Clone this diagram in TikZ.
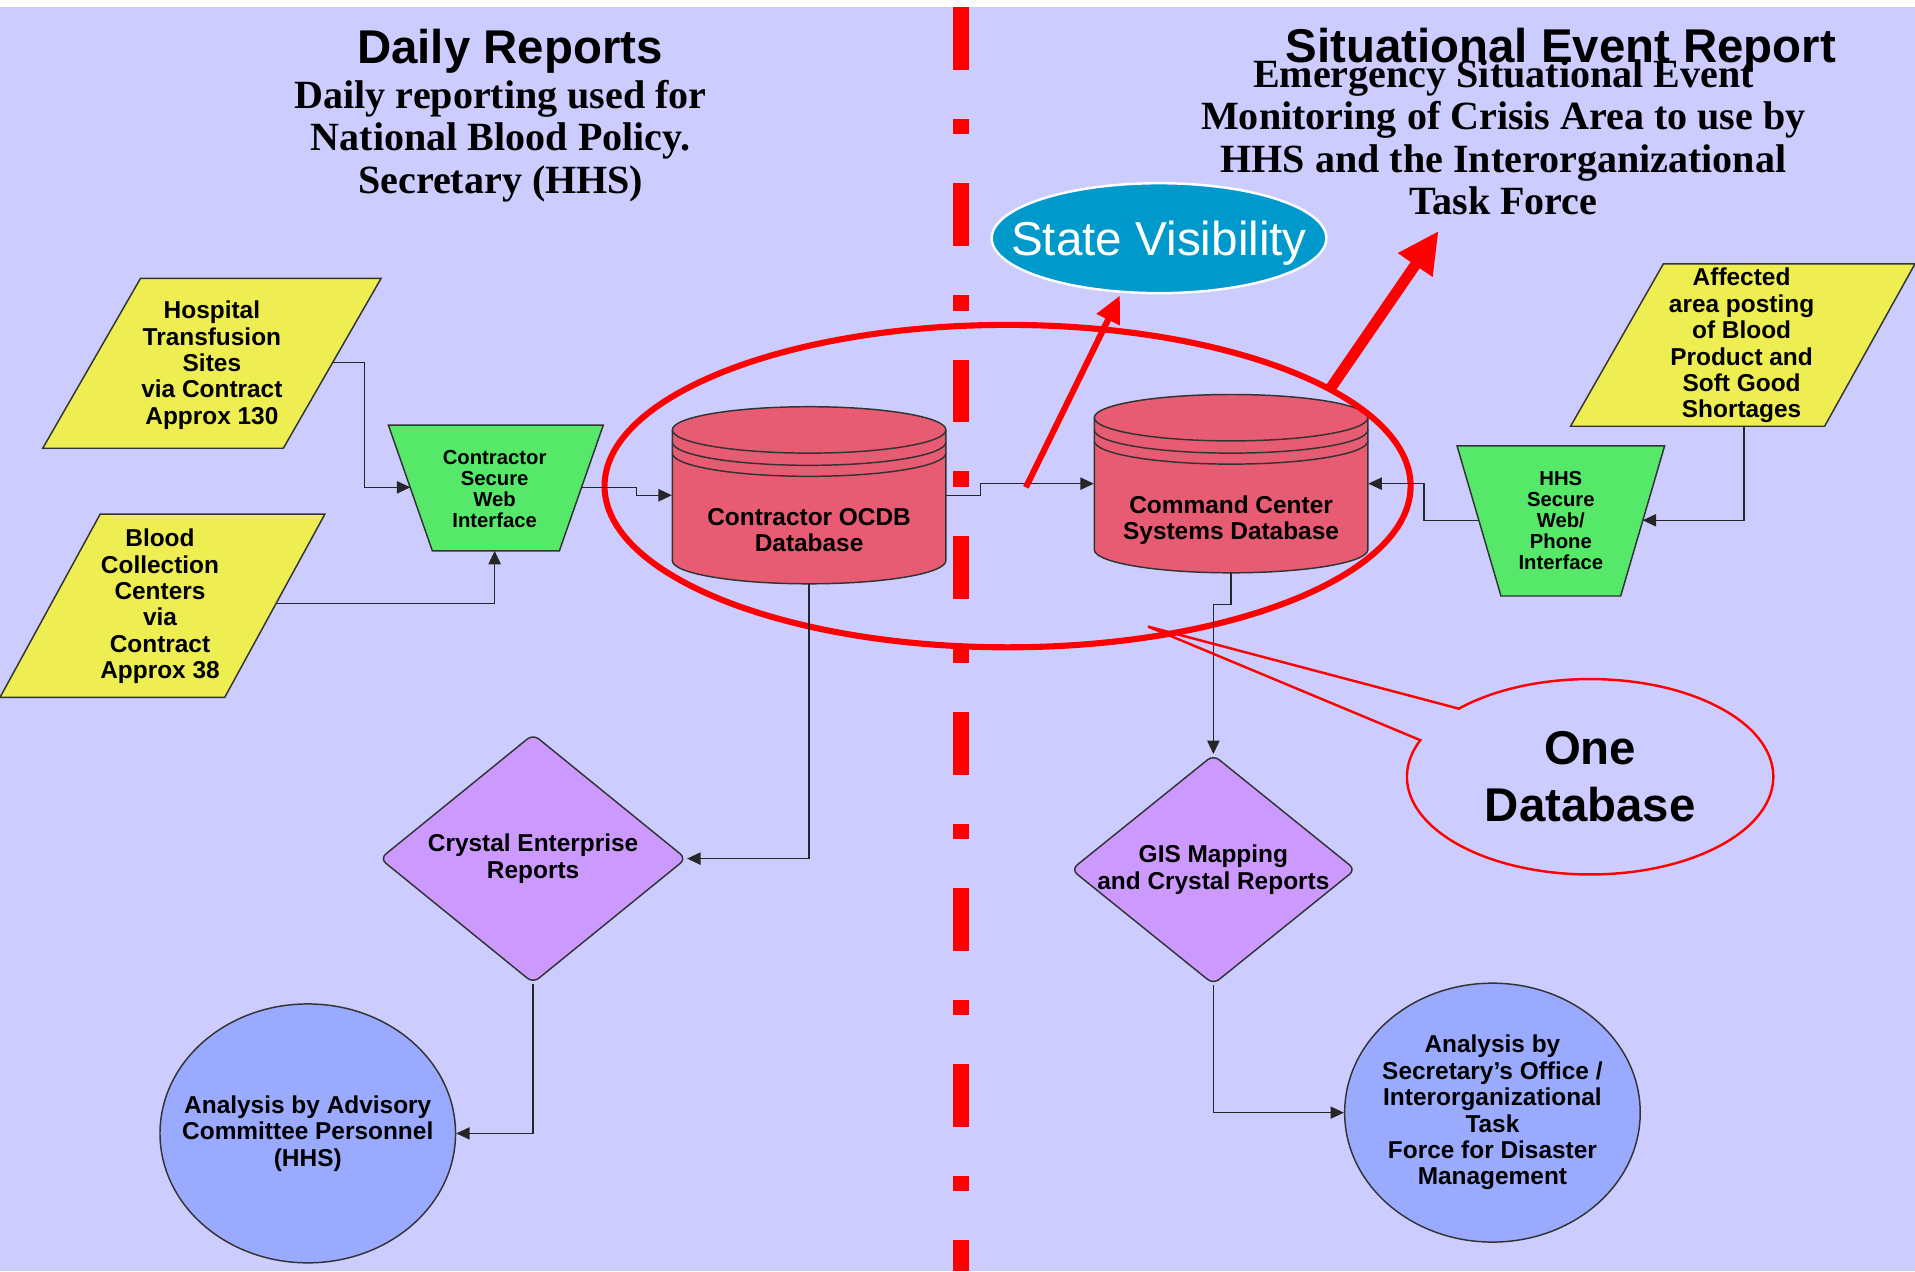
\documentclass[tikz,border=0pt]{standalone}
\usepackage{fontspec}
\setmainfont{Liberation Sans}
\newfontfamily\titleserif{Liberation Serif}
\usetikzlibrary{arrows.meta,shapes.geometric,calc}

\definecolor{lavender}{RGB}{204,204,255}
\definecolor{padyellow}{RGB}{238,238,82}
\definecolor{webgreen}{RGB}{85,232,105}
\definecolor{dbpink}{RGB}{232,92,115}
\definecolor{rptpurple}{RGB}{204,153,255}
\definecolor{usrblue}{RGB}{153,170,255}
\definecolor{stateblue}{RGB}{0,153,204}

\tikzset{
    outl/.style={draw=black!80, line width=0.6pt},
    inbox/.style={outl, fill=padyellow},
    webbox/.style={outl, fill=webgreen},
    dbfill/.style={fill=dbpink},
    dbline/.style={draw=black!80, line width=0.6pt},
    dbnode/.style={minimum width=112pt, minimum height=72.5pt, inner sep=0pt},
    rptbox/.style={outl, fill=rptpurple, diamond, rounded corners=3pt, inner sep=0pt},
    usrbox/.style={outl, fill=usrblue, ellipse, inner sep=0pt,
        minimum width=121pt, minimum height=106pt},
    txt/.style={font=\fontsize{10}{10.8}\selectfont\bfseries, align=center, inner sep=0pt},
    smalltxt/.style={font=\fontsize{8.3}{8.6}\selectfont\bfseries, align=center, inner sep=0pt},
    headtxt/.style={font=\fontsize{19.4}{22}\selectfont\bfseries, inner sep=0pt},
    subtxt/.style={font=\titleserif\fontsize{16.4}{17.3}\selectfont\bfseries, align=center, inner sep=0pt},
    conn/.style={draw=black!85, line width=0.6pt, -{Triangle[length=5.5pt,width=5pt]}},
}

% cylinder: centre x, top y, bottom y
\newcommand{\dbcyl}[3]{%
    \path[dbfill] (#1-112,#2+19) -- (#1-112,#3-19)
        arc[start angle=180, end angle=0, x radius=112, y radius=19]
        -- (#1+112,#2+19)
        arc[start angle=0, end angle=-180, x radius=112, y radius=19] -- cycle;
    \draw[dbline] (#1-112,#2+19) -- (#1-112,#3-19)
        arc[start angle=180, end angle=0, x radius=112, y radius=19] -- (#1+112,#2+19);
    \draw[dbline] (#1,#2+19) ellipse [x radius=112, y radius=19];
    \draw[dbline] (#1-112,#2+29) arc[start angle=180, end angle=0, x radius=112, y radius=19];
    \draw[dbline] (#1-112,#2+38) arc[start angle=180, end angle=0, x radius=112, y radius=19];
}

\begin{document}
\begin{tikzpicture}[x=0.5pt, y=-0.5pt]
    \useasboundingbox (0,0) rectangle (1568,1041);
    \fill[white] (0,0) rectangle (1568,1041);
    \fill[lavender] (0,6) rectangle (1568,1041);

    % divider
    \draw[red, line width=6.5pt, dash pattern=on 25.75pt off 20.05pt on 6.25pt off 20.05pt]
        (786.5,6) -- (786.5,1041);

    % headings
    \node[headtxt, anchor=base] (dailyhead) at (417.5,52) {Daily Reports};
    \node[headtxt, anchor=base] (eventhead) at (1278,51) {Situational Event Report};
    \node[subtxt, anchor=north] (dailysub) at (410,65.5)
        {Daily reporting used for\\National Blood Policy.\\Secretary (HHS)};
    \node[subtxt, anchor=north] (eventsub) at (1231,48.5)
        {Emergency Situational Event\\Monitoring of Crisis Area to use by\\HHS and the Interorganizational\\Task Force};

    % inputs
    \filldraw[inbox] (115,228) -- (312,228) -- (232,367) -- (35,367) -- cycle;
    \node[txt] (hosp) at (173.5,299) {Hospital\\Transfusion\\Sites\\via Contract\\Approx 130};
    \filldraw[inbox] (82,421) -- (266,421) -- (184,571) -- (0,571) -- cycle;
    \node[txt] (blood) at (131,496.5) {Blood\\Collection\\Centers\\via\\Contract\\Approx 38};
    \filldraw[inbox] (1362,216) -- (1568,216) -- (1494,349) -- (1286,349) -- cycle;
    \node[txt] (affected) at (1426,283) {Affected\\area posting\\of Blood\\Product and\\Soft Good\\Shortages};

    % web interfaces
    \filldraw[webbox] (318,348) -- (494,348) -- (458,451) -- (354,451) -- cycle;
    \node[smalltxt] (csw) at (405,400) {Contractor\\Secure\\Web\\Interface};
    \filldraw[webbox] (1193,365) -- (1363,365) -- (1327,488) -- (1229,488) -- cycle;
    \node[smalltxt] (hhs) at (1278,426.5) {HHS\\Secure\\Web/\\Phone\\Interface};

    % databases
    \dbcyl{662.5}{333}{478}
    \node[dbnode] (ocdb) at (662.5,405.5) {};
    \node[txt] (ocdb-txt) at (662.5,434) {Contractor OCDB\\Database};
    \dbcyl{1008}{323}{469}
    \node[dbnode] (cc) at (1008,396) {};
    \node[txt] (cc-txt) at (1008,426) {Command Center\\Systems Database};

    % reports and users
    \node[rptbox, minimum width=125.5pt, minimum height=102pt,
        label={[txt]center:Crystal Enterprise\\Reports}] (crys) at (436.5,703) {};
    \node[rptbox, minimum width=116.5pt, minimum height=94pt,
        label={[txt]center:GIS Mapping\\and Crystal Reports}] (gis) at (993.5,712) {};
    \node[usrbox, label={[txt]center:Analysis by Advisory\\Committee Personnel\\(HHS)}] (adv) at (252,928) {};
    \node[usrbox, label={[txt]center:Analysis by\\Secretary's Office /\\Interorganizational\\Task\\Force for Disaster\\Management}] (sec) at (1222,911) {};

    \node[ellipse, fill=stateblue, draw=white, line width=1pt, minimum width=137pt, minimum height=45pt,
        label={[font=\fontsize{19.5}{20}\selectfont, text=white, yshift=-2pt]center:State Visibility}] (state) at (949,195) {};

    % one database ring
    \node[ellipse, draw=red, line width=2.5pt, minimum width=330pt, minimum height=132pt] (dbring) at (825,398) {};

    % connectors
    \coordinate (hosp-out) at (272,297);
    \coordinate (blood-out) at (226,494);
    \coordinate (csw-w) at (336,399);
    \coordinate (csw-e) at (476,399);
    \coordinate (csw-s) at (405,451);
    \coordinate (hhs-w) at (1211,426);
    \coordinate (hhs-e) at (1345,426);
    \coordinate (aff-s) at (1428,349);
    \draw[conn] (hosp-out) -- ++(26.5,0) |- (csw-w);
    \draw[conn] (blood-out) -| (csw-s);
    \draw[conn] (csw-e) -- ++(45,0) |- (ocdb.west);
    \draw[conn] (ocdb.east) -- ++(28,0) |- (cc.west);
    \draw[conn] (aff-s) |- (hhs-e);
    \draw[conn] (hhs-w) -- ++(-45,0) |- (cc.east);
    \draw[conn] (ocdb.south) |- (crys.east);
    \draw[conn] (crys.south) |- (adv.east);
    \draw[conn] (cc.south) -- ++(0,26) -| (gis.north);
    \draw[conn] (gis.south) |- (sec.west);

    % red arrows
    \coordinate (vis-from) at (840,399);
    \coordinate (vis-to) at (917,242);
    \coordinate (task-from) at (1088,320);
    \coordinate (task-to) at (1178,189);
    \draw[red, line width=2.5pt, -{Triangle[length=11pt,width=10pt]}] (vis-from) -- (vis-to);
    \draw[red, line width=4.5pt, -{Triangle[length=17pt,width=16pt]}] (task-from) -- (task-to);

    % callout
    \coordinate (dbtip) at (940,513);
    \node[minimum width=150pt, minimum height=80pt, inner sep=0pt,
        label={[font=\fontsize{19.4}{23.5}\selectfont\bfseries, align=center]center:One\\Database}] (onedb) at (1302,636) {};
    \draw[red, line width=1pt] (dbtip) -- ($(onedb.center)+(224.2:150 and 80)$)
        arc[start angle=224.2, end angle=562, x radius=150, y radius=80] -- cycle;
\end{tikzpicture}
\end{document}
